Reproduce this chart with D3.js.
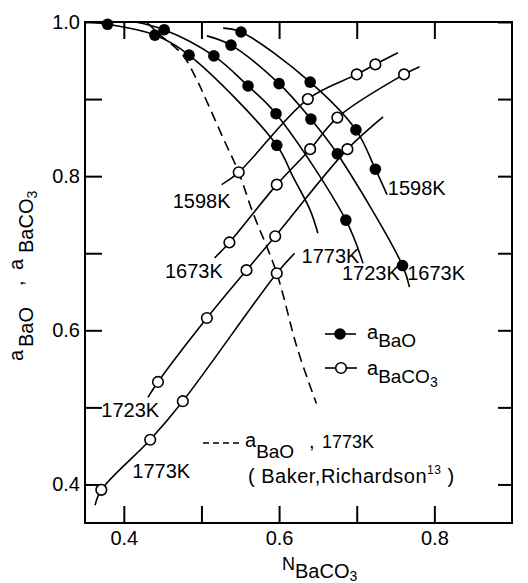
<!DOCTYPE html>
<html>
<head>
<meta charset="utf-8">
<script src="https://cdn.jsdelivr.net/npm/d3@7"></script>
<style>
  body { margin: 0; background: #fff; }
  svg { display: block; }
  text { font-family: "Liberation Sans", Arial, sans-serif; fill: #000; }
</style>
</head>
<body>
<svg id="chart" width="528" height="583"></svg>
<script>
// ---------------- data (N_BaCO3, activity) ----------------
// measured a_BaO (filled circles)
const aBaO_1598K = [[0.551,0.987],[0.640,0.922],[0.699,0.860],[0.724,0.809]];
const aBaO_1673K = [[0.538,0.970],[0.600,0.920],[0.641,0.874],[0.675,0.829],[0.759,0.684]];
const aBaO_1723K = [[0.452,0.990],[0.516,0.956],[0.560,0.917],[0.596,0.881],[0.686,0.743]];
const aBaO_1773K = [[0.379,0.997],[0.440,0.983],[0.484,0.957],[0.597,0.840]];
// measured a_BaCO3 (open circles)
const aBaCO3_1598K = [[0.548,0.805],[0.637,0.900],[0.700,0.932],[0.724,0.945]];
const aBaCO3_1673K = [[0.536,0.714],[0.597,0.789],[0.640,0.835],[0.675,0.876],[0.761,0.932]];
const aBaCO3_1723K = [[0.444,0.533],[0.507,0.616],[0.558,0.678],[0.595,0.722],[0.688,0.835]];
const aBaCO3_1773K = [[0.371,0.393],[0.434,0.458],[0.476,0.508],[0.597,0.674]];
// smoothed curves drawn through the data
const fitBaO_1598K = [[0.528,0.992],[0.551,0.987],[0.640,0.922],[0.699,0.860],[0.724,0.809],[0.739,0.776]];
const fitBaO_1673K = [[0.507,0.982],[0.538,0.970],[0.600,0.920],[0.641,0.874],[0.675,0.829],[0.759,0.684],[0.768,0.656]];
const fitBaO_1723K = [[0.415,1.000],[0.452,0.990],[0.516,0.956],[0.560,0.917],[0.596,0.881],[0.686,0.743],[0.708,0.687]];
const fitBaO_1773K = [[0.353,1.000],[0.379,0.997],[0.440,0.983],[0.484,0.957],[0.597,0.840],[0.618,0.799],[0.640,0.756],[0.650,0.726]];
const fitBaCO3_1598K = [[0.526,0.789],[0.548,0.805],[0.637,0.900],[0.700,0.932],[0.724,0.945],[0.753,0.960]];
const fitBaCO3_1673K = [[0.517,0.694],[0.536,0.714],[0.597,0.789],[0.640,0.835],[0.675,0.876],[0.761,0.932],[0.781,0.942]];
const fitBaCO3_1723K = [[0.431,0.513],[0.444,0.533],[0.507,0.616],[0.558,0.678],[0.595,0.722],[0.688,0.835],[0.734,0.877]];
const fitBaCO3_1773K = [[0.363,0.373],[0.371,0.393],[0.434,0.458],[0.476,0.508],[0.597,0.674],[0.620,0.700]];
// Baker & Richardson a_BaO at 1773K (dashed)
const bakerRichardson_1773K = [[0.430,0.999],[0.447,0.983],[0.476,0.957],[0.494,0.925],[0.506,0.899],
  [0.529,0.847],[0.548,0.805],[0.565,0.756],[0.597,0.674],[0.623,0.578],[0.648,0.505]];

const xTicks = [0.4,0.5,0.6,0.7,0.8];
const xTickLabels = [0.4,0.6,0.8];
const yTicks = [0.4,0.5,0.6,0.7,0.8,0.9,1.0];
const yTickLabels = [0.4,0.6,0.8,1.0];

// curve labels: [text, N at left of text, activity at baseline]
const curveLabels = [
  ["1598K",0.463,0.759],["1673K",0.453,0.668],["1723K",0.371,0.488],["1773K",0.411,0.408],
  ["1773K",0.629,0.687],["1723K",0.681,0.665],["1673K",0.765,0.665],["1598K",0.740,0.776]
];

// ---------------- drawing ----------------
const L = 85, R = 512, T = 22, B = 523;
const x = d3.scaleLinear().domain([0.35,0.9]).range([L,R]);
const y = d3.scaleLinear().domain([0.35,1.0]).range([B,T]);
const svg = d3.select("#chart");
const fmt = d3.format(".1f");
const TL = 17;

function styleAxis(g){
  g.select(".domain").remove();
  g.selectAll(".tick line").attr("stroke","#000").attr("stroke-width",2);
  g.selectAll(".tick text").attr("font-size",20).attr("font-family","Liberation Sans, Arial, sans-serif");
}
svg.append("g").attr("transform",`translate(0,${B})`)
  .call(d3.axisBottom(x).tickValues(xTicks).tickSizeInner(-TL).tickSizeOuter(0).tickPadding(8)
    .tickFormat(d => xTickLabels.some(v => Math.abs(v-d)<1e-9) ? fmt(d) : ""))
  .call(styleAxis);
svg.append("g").attr("transform",`translate(0,${T})`)
  .call(d3.axisTop(x).tickValues(xTicks).tickSizeInner(-TL).tickSizeOuter(0).tickFormat(""))
  .call(styleAxis);
svg.append("g").attr("transform",`translate(${L},0)`)
  .call(d3.axisLeft(y).tickValues(yTicks).tickSizeInner(-TL).tickSizeOuter(0).tickPadding(5)
    .tickFormat(d => yTickLabels.some(v => Math.abs(v-d)<1e-9) ? fmt(d) : ""))
  .call(styleAxis);
svg.append("g").attr("transform",`translate(${R},0)`)
  .call(d3.axisRight(y).tickValues(yTicks).tickSizeInner(-14).tickSizeOuter(0).tickFormat(""))
  .call(styleAxis);

svg.append("rect").attr("x",L).attr("y",T).attr("width",R-L).attr("height",B-T)
  .attr("fill","none").attr("stroke","#000").attr("stroke-width",2);

const line = d3.line().x(d => x(d[0])).y(d => y(d[1])).curve(d3.curveCatmullRom.alpha(0.5));
const fits = [fitBaO_1598K,fitBaO_1673K,fitBaO_1723K,fitBaO_1773K,
              fitBaCO3_1598K,fitBaCO3_1673K,fitBaCO3_1723K,fitBaCO3_1773K];
svg.append("g").selectAll("path").data(fits).join("path")
  .attr("d", line).attr("fill","none").attr("stroke","#000").attr("stroke-width",1.6);
svg.append("path").attr("d", line(bakerRichardson_1773K))
  .attr("fill","none").attr("stroke","#000").attr("stroke-width",1.6).attr("stroke-dasharray","10,6");

const openPts = [].concat(aBaCO3_1598K,aBaCO3_1673K,aBaCO3_1723K,aBaCO3_1773K);
const filledPts = [].concat(aBaO_1598K,aBaO_1673K,aBaO_1723K,aBaO_1773K);
svg.append("g").selectAll("circle").data(openPts).join("circle")
  .attr("cx",d=>x(d[0])).attr("cy",d=>y(d[1])).attr("r",5.3)
  .attr("fill","#fff").attr("stroke","#000").attr("stroke-width",1.6);
svg.append("g").selectAll("circle").data(filledPts).join("circle")
  .attr("cx",d=>x(d[0])).attr("cy",d=>y(d[1])).attr("r",5.8).attr("fill","#000");

svg.append("g").selectAll("text").data(curveLabels).join("text")
  .attr("x",d=>x(d[1])).attr("y",d=>y(d[2])).attr("font-size",20).text(d=>d[0]);

// legend
function sub(t, parts){
  parts.forEach(p => t.append("tspan").attr("font-size",p.fs).attr("dy",p.dy||0).text(p.t));
  return t;
}
svg.append("line").attr("x1",325).attr("x2",356).attr("y1",334).attr("y2",334).attr("stroke","#000").attr("stroke-width",1.6);
svg.append("circle").attr("cx",340).attr("cy",334).attr("r",5.8).attr("fill","#000");
sub(svg.append("text").attr("x",367).attr("y",339),[{t:"a",fs:20},{t:"BaO",fs:19,dy:8}]);

svg.append("line").attr("x1",325).attr("x2",357).attr("y1",368).attr("y2",368).attr("stroke","#000").attr("stroke-width",1.6);
svg.append("circle").attr("cx",341).attr("cy",368).attr("r",5.3).attr("fill","#fff").attr("stroke","#000").attr("stroke-width",1.6);
sub(svg.append("text").attr("x",367).attr("y",375),[{t:"a",fs:20},{t:"BaCO",fs:19,dy:8},{t:"3",fs:14,dy:4}]);

svg.append("line").attr("x1",203).attr("x2",240).attr("y1",443).attr("y2",443)
  .attr("stroke","#000").attr("stroke-width",1.6).attr("stroke-dasharray","6,4");
sub(svg.append("text").attr("x",245).attr("y",447),[{t:"a",fs:20},{t:"BaO",fs:19,dy:11}]);
svg.append("text").attr("x",309).attr("y",448).attr("font-size",20).text(",");
svg.append("text").attr("x",322).attr("y",448).attr("font-size",18).text("1773K");
sub(svg.append("text").attr("x",248).attr("y",483).attr("letter-spacing",0.5),
  [{t:"( Baker,Richardson",fs:20},{t:"13",fs:12,dy:-9},{t:" )",fs:20,dy:9}]);

// axis titles
sub(svg.append("text").attr("x",282).attr("y",570),[{t:"N",fs:18},{t:"BaCO",fs:20,dy:8},{t:"3",fs:14,dy:3}]);

const yt = svg.append("text").attr("transform","translate(23,361) rotate(-90)");
yt.append("tspan").attr("x",0).attr("y",0).attr("font-size",20).text("a");
yt.append("tspan").attr("x",14).attr("y",10).attr("font-size",20).text("BaO");
yt.append("tspan").attr("x",75).attr("y",0).attr("font-size",20).text(",");
yt.append("tspan").attr("x",91).attr("y",0).attr("font-size",20).text("a");
yt.append("tspan").attr("x",108).attr("y",10).attr("font-size",20).text("BaCO");
yt.append("tspan").attr("y",14).attr("font-size",14).text("3");
</script>
</body>
</html>
